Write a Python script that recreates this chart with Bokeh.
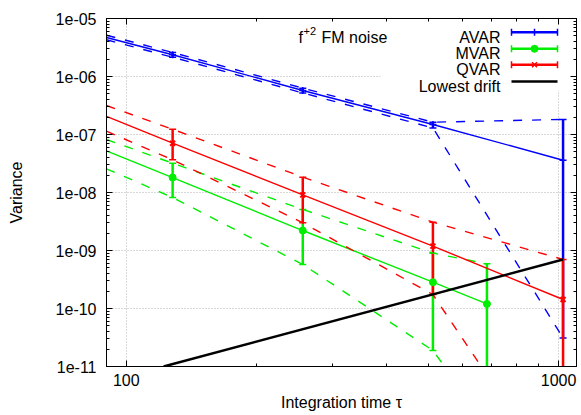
from bokeh.plotting import figure
from bokeh.models import (Range1d, LinearScale, LogAxis, FixedTicker,
                          CustomJSTickFormatter, BoxAnnotation, Label)
from bokeh.embed import file_html
from bokeh.resources import INLINE

# ---------------- data ----------------
tau = [128, 256, 512, 1024]
avar = [2.37e-6, 5.74e-7, 1.49e-7, 3.6e-8]
avar_hi = [2.6e-6, 6.3e-7, 1.63e-7, 1.82e-7]
avar_lo = [2.15e-6, 5.2e-7, 1.30e-7, 3.1e-11]

tau_m = [128, 256, 512, 682.7]
mvar = [1.81e-8, 2.21e-9, 2.84e-10, 1.2e-10]
mvar_hi = [3.2e-8, 5.1e-9, 9.0e-10, 5.9e-10]
mvar_lo = [8.2e-9, 5.74e-10, 1.89e-11, 1e-12]

tau_q = [128, 256, 512, 1024]
qvar = [7.08e-8, 9.1e-9, 1.19e-9, 1.43e-10]
qvar_hi = [1.23e-7, 1.84e-8, 3.08e-9, 7.0e-10]
qvar_lo = [3.66e-8, 3.0e-9, 1.74e-10, 8e-14]

# values of the fit / bound curves at the left edge of the plot
tau_edge = 90
avar_edge = [4.7e-6, 5.15e-6, 4.3e-6]     # fit, upper, lower
mvar_edge = [5.2e-8, 8.2e-8, 2.56e-8]
qvar_edge = [2.05e-7, 3.16e-7, 1.14e-7]

drift_tau = [122, 1024]
drift = [1e-11, 7.0e-10]

x_ticks = [100, 1000]
x_labels = ["100", "1000"]
x_minor = [90, 200, 300, 400, 500, 600, 700, 800, 900, 2000]
y_ticks = [1e-11, 1e-10, 1e-9, 1e-8, 1e-7, 1e-6, 1e-5]
y_labels = ["1e-11", "1e-10", "1e-09", "1e-08", "1e-07", "1e-06", "1e-05"]
y_minor = [m * 10.0 ** e for e in range(-12, -4) for m in range(2, 10)]

series_names = ["AVAR", "MVAR", "QVAR", "Lowest drift"]
title_main, title_sup, title_rest = "f", "+2", "FM noise"
x_title, y_title = "Integration time τ", "Variance"

# ---------------- style ----------------
FONT = "Liberation Sans"
FS = "16px"
BLUE, GREEN, RED, BLACK = "#0000ff", "#00ee00", "#ff0000", "#000000"
DASH = "9 10"

FL, FT, FW, FH = 106, 18, 470, 348


def fx(px):
    return (px - FL) / FW


def fy(py):
    return (FT + FH - py) / FH


p = figure(x_axis_type="log", y_axis_type="log",
           x_range=Range1d(90, 1100), y_range=Range1d(1e-11, 1e-5),
           frame_width=FW, frame_height=FH,
           min_border_left=FL, min_border_right=5, min_border_top=FT,
           min_border_bottom=49,
           output_backend="svg", toolbar_location=None)
p.outline_line_color = "black"
p.outline_line_width = 1
p.background_fill_color = "white"
p.border_fill_color = "white"

p.extra_x_ranges = {"fx": Range1d(0, 1)}
p.extra_y_ranges = {"fy": Range1d(0, 1)}
p.extra_x_scales = {"fx": LinearScale()}
p.extra_y_scales = {"fy": LinearScale()}

fmt_code = """
let best = 0, d = Infinity;
for (let i = 0; i < tv.length; i++) {
  const e = Math.abs(Math.log10(tick) - Math.log10(tv[i]));
  if (e < d) { d = e; best = i; }
}
return tl[best];
"""


def style_axis(ax):
    ax.major_tick_in = 6
    ax.major_tick_out = 0
    ax.minor_tick_in = 3
    ax.minor_tick_out = 0
    ax.axis_line_color = "black"
    ax.major_tick_line_color = "black"
    ax.minor_tick_line_color = "black"
    ax.major_label_text_font = FONT
    ax.major_label_text_font_size = FS
    ax.major_label_text_color = "black"
    ax.axis_label_text_font = FONT
    ax.axis_label_text_font_size = FS
    ax.axis_label_text_font_style = "normal"
    ax.axis_label_text_color = "black"


xa = p.xaxis[0]
xa.ticker = FixedTicker(ticks=x_ticks, minor_ticks=x_minor)
xa.formatter = CustomJSTickFormatter(args=dict(tv=x_ticks, tl=x_labels), code=fmt_code)
style_axis(xa)
xa.major_label_standoff = 7
xa.axis_label = x_title
xa.axis_label_standoff = 5

ya = p.yaxis[0]
ya.ticker = FixedTicker(ticks=y_ticks, minor_ticks=y_minor)
ya.formatter = CustomJSTickFormatter(args=dict(tv=y_ticks, tl=y_labels), code=fmt_code)
style_axis(ya)
ya.major_label_standoff = 10
ya.axis_label = y_title
ya.axis_label_standoff = 28

for loc, tk, mn in (("right", y_ticks, y_minor), ("above", x_ticks, x_minor)):
    ax = LogAxis(ticker=FixedTicker(ticks=tk, minor_ticks=mn),
                 formatter=CustomJSTickFormatter(code="return '';"))
    style_axis(ax)
    ax.major_label_text_font_size = "0px"
    ax.major_label_standoff = 0
    p.add_layout(ax, loc)

for g, tk in ((p.xgrid[0], x_ticks), (p.ygrid[0], y_ticks)):
    g.ticker = FixedTicker(ticks=tk)
    g.grid_line_color = "#b0b0b0"
    g.grid_line_dash = "1 2"
    g.grid_line_width = 1

# white legend background (covers the grid only)
p.add_layout(BoxAnnotation(left=fx(380), right=1, bottom=fy(90), top=1,
                           x_range_name="fx", y_range_name="fy",
                           fill_color="white", fill_alpha=1, line_color=None,
                           level="underlay"))

# ---------------- error bars ----------------
for tx, hi, lo, col in ((tau, avar_hi, avar_lo, BLUE),
                        (tau_m, mvar_hi, mvar_lo, GREEN),
                        (tau_q, qvar_hi, qvar_lo, RED)):
    p.segment(x0=tx, y0=lo, x1=tx, y1=hi, line_color=col, line_width=2.5)
    p.scatter(x=tx + tx, y=hi + lo, marker="dash", size=7,
              line_color=col, line_width=1.5)

# ---------------- fit lines and bounds ----------------
for tx, val, hi, lo, edge, col in ((tau, avar, avar_hi, avar_lo, avar_edge, BLUE),
                                   (tau_m, mvar, mvar_hi, mvar_lo, mvar_edge, GREEN),
                                   (tau_q, qvar, qvar_hi, qvar_lo, qvar_edge, RED)):
    xs = [tau_edge] + tx
    p.line(xs, [edge[0]] + val, line_color=col, line_width=1.4)
    p.line(xs, [edge[1]] + hi, line_color=col, line_width=1.4, line_dash=DASH)
    p.line(xs, [edge[2]] + lo, line_color=col, line_width=1.4, line_dash=DASH)

p.line(drift_tau, drift, line_color=BLACK, line_width=2.5)

# ---------------- markers ----------------
p.scatter(tau, avar, marker="cross", size=7, line_color=BLUE, line_width=1.5)
p.scatter(tau_m, mvar, marker="circle", size=7, fill_color=GREEN, line_color=GREEN)
p.scatter(tau_q, qvar, marker="x", size=7, line_color=RED, line_width=2)

# ---------------- legend (frame-fraction coordinates) ----------------
leg_rows = [31.7, 48.3, 64.3, 81.0]
leg_base = [36.7, 53.3, 69.3, 86.0]
leg_cols = [BLUE, GREEN, RED, BLACK]
leg_marks = ["cross", "circle", "x", None]
x0s, x1s, xm = fx(511), fx(557), fx(534)
for name, yr, yb, col, mk in zip(series_names, leg_rows, leg_base, leg_cols, leg_marks):
    p.add_layout(Label(x=fx(500), y=fy(yb), x_range_name="fx", y_range_name="fy",
                       text=name, text_align="right", text_baseline="alphabetic",
                       text_font=FONT, text_font_size=FS, text_color="black"))
    p.segment(x0=[x0s], y0=[fy(yr)], x1=[x1s], y1=[fy(yr)], line_color=col,
              line_width=2.5, x_range_name="fx", y_range_name="fy")
    if mk is None:
        continue
    p.scatter(x=[x0s, x1s], y=[fy(yr), fy(yr)], marker="dash", angle=1.5708,
              size=7, line_color=col, line_width=1.5,
              x_range_name="fx", y_range_name="fy")
    if mk == "circle":
        p.scatter(x=[xm], y=[fy(yr)], marker=mk, size=7, fill_color=col,
                  line_color=col, x_range_name="fx", y_range_name="fy")
    else:
        p.scatter(x=[xm], y=[fy(yr)], marker=mk, size=7, line_color=col,
                  line_width=1.5, x_range_name="fx", y_range_name="fy")

# ---------------- title text inside the plot ----------------
p.add_layout(Label(x=fx(298), y=fy(36.7), x_range_name="fx", y_range_name="fy",
                   text=title_main, text_baseline="alphabetic",
                   text_font=FONT, text_font_size=FS, text_color="black"))
p.add_layout(Label(x=fx(303), y=fy(30.5), x_range_name="fx", y_range_name="fy",
                   text=title_sup, text_baseline="alphabetic",
                   text_font=FONT, text_font_size="11px", text_color="black"))
p.add_layout(Label(x=fx(321), y=fy(36.7), x_range_name="fx", y_range_name="fy",
                   text=title_rest, text_baseline="alphabetic",
                   text_font=FONT, text_font_size=FS, text_color="black"))

open("out.html", "w").write(file_html(p, INLINE))
